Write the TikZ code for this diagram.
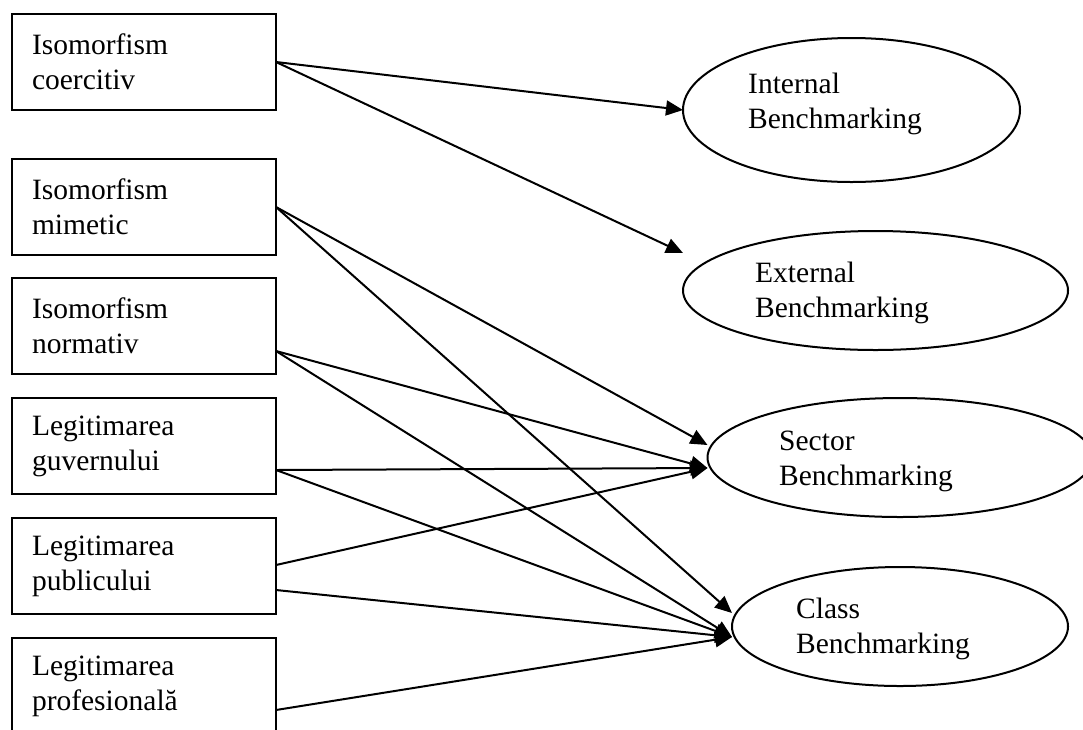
\documentclass[tikz,border=0pt]{standalone}
\usepackage{fontspec}
\setmainfont{Liberation Serif}
\usetikzlibrary{arrows.meta,shapes.geometric,calc}

\begin{document}
\begin{tikzpicture}[x=1pt, y=-1pt,
  box/.style={draw, line width=2pt, outer sep=0pt, minimum width=264pt, minimum height=96pt,
    text width=224pt, inner xsep=20pt, inner ysep=0pt, align=left, font=\fontsize{29.5}{35}\selectfont},
  oval/.style={draw, ellipse, line width=2pt, outer sep=0pt, inner sep=0pt},
  lbl/.style={anchor=north west, inner sep=0pt, align=left, font=\fontsize{29.5}{35}\selectfont},
  link/.style={line width=2pt, -{Triangle[length=17pt, width=15pt]}}]
\useasboundingbox (0,0) rectangle (1083,729);
\clip (0,0) rectangle (1083,729);
\node[box] (coe) at (144,62) {Isomorfism\\coercitiv};
\node[box] (mim) at (144,207) {Isomorfism\\mimetic};
\node[box] (nor) at (144,326) {Isomorfism\\normativ};
\node[box] (guv) at (144,446) {Legitimarea\\guvernului};
\node[box] (pub) at (144,566) {Legitimarea\\publicului};
\node[box] (pro) at (144,686) {Legitimarea\\profesională};
\node[oval, minimum width=337pt, minimum height=144pt] (int) at (851.5,110) {};
\node[oval, minimum width=385pt, minimum height=119pt] (ext) at (875.5,290.5) {};
\node[oval, minimum width=385pt, minimum height=119pt] (sec) at (900,457.5) {};
\node[oval, minimum width=336pt, minimum height=119pt] (cls) at (900,626.5) {};
\node[lbl] (intT) at (748,73) {Internal\\Benchmarking};
\node[lbl] (extT) at (755,262) {External\\Benchmarking};
\node[lbl] (secT) at (779,431) {Sector\\Benchmarking};
\node[lbl] (clsT) at (796,598) {Class\\Benchmarking};
\draw[link] (coe.east) -- (int.west);
\draw[link] (coe.east) -- ($(ext.west)+(0,-37.5)$);
\draw[link] (mim.east) -- ($(sec.west)+(0,-12.5)$);
\draw[link] (mim.east) -- ($(cls.west)+(0,-13.5)$);
\draw[link] ($(nor.south east)+(0,-23)$) -- ($(sec.west)+(0,10.5)$);
\draw[link] ($(nor.south east)+(0,-23)$) -- ($(cls.west)+(0,10.5)$);
\draw[link] ($(guv.south east)+(0,-24)$) -- ($(sec.west)+(0,10.5)$);
\draw[link] ($(guv.south east)+(0,-24)$) -- ($(cls.west)+(0,10.5)$);
\draw[link] ($(pub.south east)+(0,-49)$) -- ($(sec.west)+(0,10.5)$);
\draw[link] ($(pub.south east)+(0,-24)$) -- ($(cls.west)+(0,10.5)$);
\draw[link] ($(pro.south east)+(0,-24)$) -- ($(cls.west)+(0,10.5)$);
\end{tikzpicture}
\end{document}
